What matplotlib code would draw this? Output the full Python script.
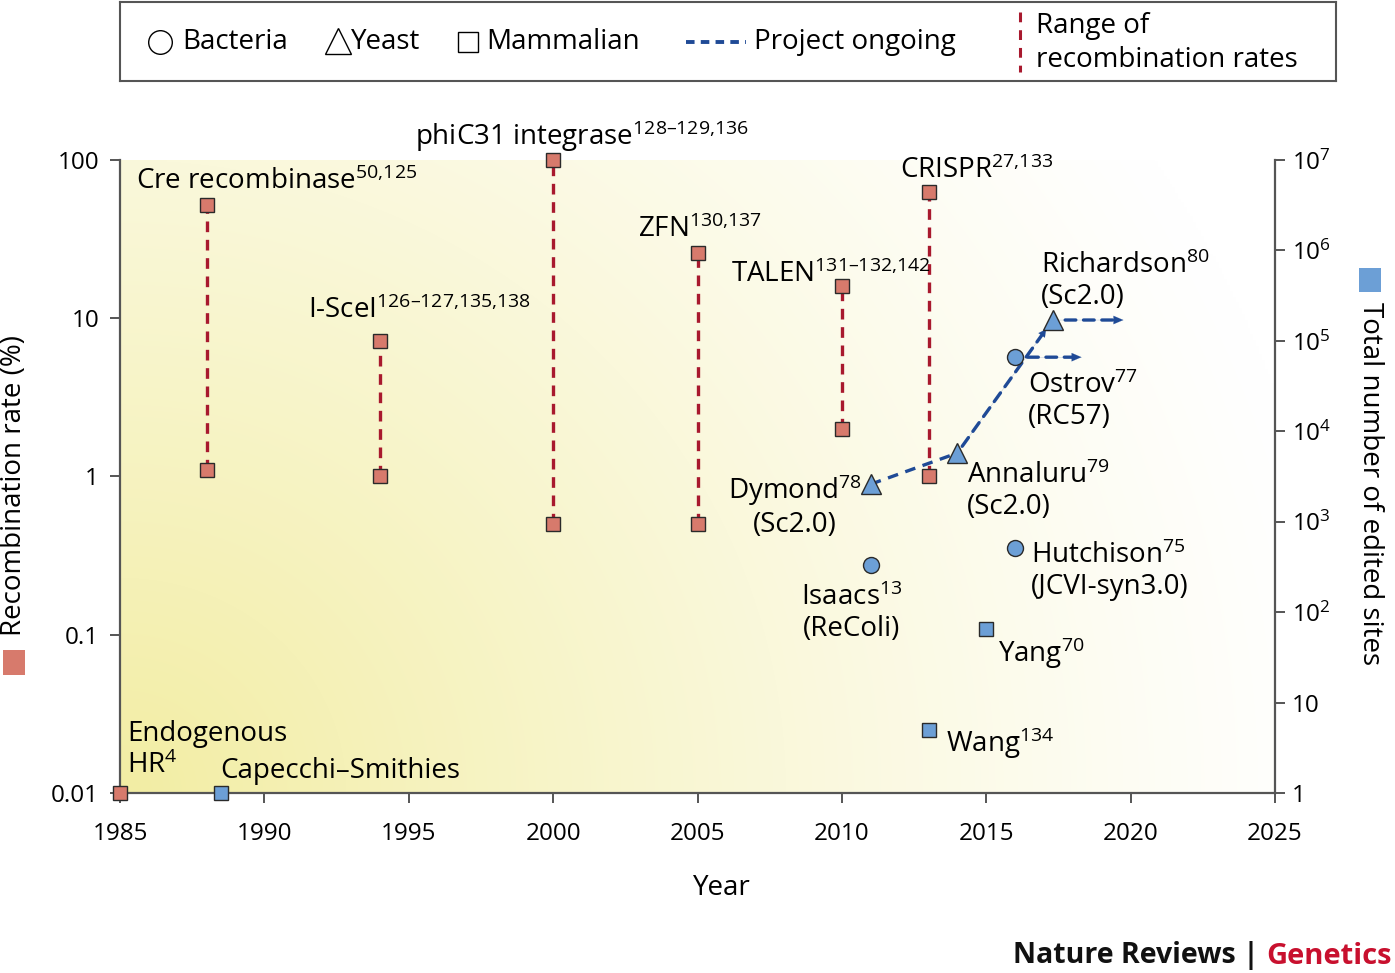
import numpy as np
import matplotlib
matplotlib.use('Agg')
import matplotlib.pyplot as plt
from matplotlib.patches import Rectangle
from matplotlib.ticker import NullLocator, FixedLocator, FixedFormatter

plt.rcParams['font.family'] = ['Open Sans', 'DejaVu Sans']
plt.rcParams['mathtext.fontset'] = 'custom'
plt.rcParams['mathtext.rm'] = 'Open Sans'
plt.rcParams['mathtext.it'] = 'Open Sans:italic'
plt.rcParams['mathtext.bf'] = 'Open Sans:bold'

# ---------------- data ----------------
tool_labels = ['Cre recombinase$^{\\mathregular{50{,}125}}$',
               'I-SceI$^{\\mathregular{126–127{,}135{,}138}}$',
               'phiC31 integrase$^{\\mathregular{128–129{,}136}}$',
               'ZFN$^{\\mathregular{130{,}137}}$',
               'TALEN$^{\\mathregular{131–132{,}142}}$',
               'CRISPR$^{\\mathregular{27{,}133}}$']
tool_years = [1988, 1994, 2000, 2005, 2010, 2013]
tool_rate_high = [52, 7.2, 100, 26, 16, 63]
tool_rate_low = [1.1, 1.0, 0.5, 0.5, 2.0, 1.0]

endogenous_label_lines = ['Endogenous', 'HR$^{\\mathregular{4}}$']
endogenous_year = [1985]
endogenous_rate = [0.01]

bacteria_labels = ['Isaacs$^{\\mathregular{13}}$\n(ReColi)',
                   'Ostrov$^{\\mathregular{77}}$\n(RC57)',
                   'Hutchison$^{\\mathregular{75}}$\n(JCVI-syn3.0)']
bacteria_years = [2011, 2016, 2016]
bacteria_sites = [330, 66000, 510]

yeast_labels = ['Dymond$^{\\mathregular{78}}$\n(Sc2.0)',
                'Annaluru$^{\\mathregular{79}}$\n(Sc2.0)',
                'Richardson$^{\\mathregular{80}}$\n(Sc2.0)']
yeast_years = [2011, 2014, 2017.3]
yeast_sites = [2600, 5750, 170000]

mammal_labels = ['Capecchi–Smithies', 'Wang$^{\\mathregular{134}}$', 'Yang$^{\\mathregular{70}}$']
mammal_years = [1988.5, 2013, 2015]
mammal_sites = [1, 5, 65]

ongoing_start_years = [2016, 2017.3]        # Ostrov, Richardson
ongoing_start_sites = [66000, 170000]
ongoing_end_years = [2018.3, 2019.75]

x_ticks = [1985, 1990, 1995, 2000, 2005, 2010, 2015, 2020, 2025]
left_ticks = [0.01, 0.1, 1, 10, 100]
left_tick_labels = ['0.01', '0.1', '1', '10', '100']
right_ticks = [1, 10, 1e2, 1e3, 1e4, 1e5, 1e6, 1e7]
right_tick_labels = ['1', '10', '$\\mathregular{10^2}$', '$\\mathregular{10^3}$',
                     '$\\mathregular{10^4}$', '$\\mathregular{10^5}$',
                     '$\\mathregular{10^6}$', '$\\mathregular{10^7}$']

# ---------------- style ----------------
RED = '#D77A6C'
BLUE = '#6C9FD6'
DARKRED = '#A8192E'
NAVY = '#1F4A96'
SPINE = '#555555'
EDGE = '#2a2a2a'
FS = 20

W, H = 1395, 973
fig = plt.figure(figsize=(W / 100, H / 100), dpi=100)

def fx(px):
    return px / W

def fy(py):
    return 1 - py / H

ax_rect = [fx(120), fy(793), fx(1275) - fx(120), fy(160) - fy(793)]

# background gradient
bg = fig.add_axes(ax_rect, zorder=-1)
gx = np.linspace(0, 1155, 400)
gy = np.linspace(0, 633, 220)
GX, GY = np.meshgrid(gx, gy)
dist = np.sqrt(GX ** 2 + (GY * 1.05) ** 2)
wgt = np.clip(1 - dist / 1230, 0, 1) ** 1.2
yellow = np.array([0.95, 0.93, 0.64])
img = (1 - wgt[..., None]) * np.array([1.0, 1.0, 1.0]) + wgt[..., None] * yellow
bg.imshow(img, origin='lower', aspect='auto', interpolation='bilinear', extent=[0, 1, 0, 1])
bg.set_axis_off()

ax = fig.add_axes(ax_rect)
ax.patch.set_alpha(0)
ax.set_yscale('log')
ax.set_xlim(1985, 2025)
ax.set_ylim(0.01, 100)

ax2 = ax.twinx()
ax2.set_yscale('log')
ax2.set_ylim(1, 1e7)

for a in (ax, ax2):
    for s in a.spines.values():
        s.set_color(SPINE)
        s.set_linewidth(1.6)
    a.spines['top'].set_visible(False)
ax2.spines['left'].set_visible(False)
ax2.spines['bottom'].set_visible(False)
ax.spines['right'].set_visible(False)

ax.xaxis.set_major_locator(FixedLocator(x_ticks))
ax.xaxis.set_major_formatter(FixedFormatter([str(t) for t in x_ticks]))
ax.yaxis.set_major_locator(FixedLocator(left_ticks))
ax.yaxis.set_major_formatter(FixedFormatter(left_tick_labels))
ax.yaxis.set_minor_locator(NullLocator())
ax2.yaxis.set_major_locator(FixedLocator(right_ticks))
ax2.yaxis.set_major_formatter(FixedFormatter(right_tick_labels))
ax2.yaxis.set_minor_locator(NullLocator())

ax.tick_params(axis='x', direction='out', length=7, width=1.4, color=SPINE,
               labelsize=17.5, pad=14)
ax.tick_params(axis='y', direction='out', length=7, width=1.4, color=SPINE,
               labelsize=17.5, pad=8)
ax2.tick_params(axis='y', direction='out', length=7, width=1.4, color=SPINE,
                labelsize=17.5, pad=5)

DASH = (0, (3.2, 2.3))

# red range lines
for x, hi, lo in zip(tool_years, tool_rate_high, tool_rate_low):
    ax.plot([x, x], [lo, hi], color=DARKRED, lw=2.4, linestyle=DASH,
            zorder=2, dash_capstyle='butt')
ax.plot(tool_years, tool_rate_high, 's', ms=10, mfc=RED, mec=EDGE, mew=1.0, zorder=4, clip_on=False)
ax.plot(tool_years, tool_rate_low, 's', ms=10, mfc=RED, mec=EDGE, mew=1.0, zorder=4, clip_on=False)
ax.plot(endogenous_year, endogenous_rate, 's', ms=10, mfc=RED, mec=EDGE, mew=1.0, zorder=5, clip_on=False)

# blue project line (Dymond -> Annaluru -> Richardson)
ax2.plot(yeast_years[:2], yeast_sites[:2], color=NAVY, lw=2.4, linestyle=DASH, zorder=3)
ax2.annotate('', xy=(yeast_years[2], yeast_sites[2]), xytext=(yeast_years[1], yeast_sites[1]),
             arrowprops=dict(arrowstyle='-', color=NAVY, lw=2.4, linestyle=DASH,
                             shrinkA=6, shrinkB=12), zorder=3)
ax2.annotate('', xy=(yeast_years[2], yeast_sites[2]), xytext=(yeast_years[1], yeast_sites[1]),
             arrowprops=dict(arrowstyle='-|>,head_length=0.55,head_width=0.28', color=NAVY, lw=0.1,
                             shrinkA=0, shrinkB=8), zorder=3)
for xs, ys, xe in zip(ongoing_start_years, ongoing_start_sites, ongoing_end_years):
    ax2.annotate('', xy=(xe, ys), xytext=(xs, ys),
                 arrowprops=dict(arrowstyle='-', color=NAVY, lw=2.4, linestyle=DASH,
                                 shrinkA=9, shrinkB=6), zorder=3)
    ax2.annotate('', xy=(xe, ys), xytext=(xs, ys),
                 arrowprops=dict(arrowstyle='-|>,head_length=0.7,head_width=0.3', color=NAVY, lw=0.1,
                                 shrinkA=0, shrinkB=0), zorder=3)

ax2.plot(bacteria_years, bacteria_sites, 'o', ms=11.5, mfc=BLUE, mec=EDGE, mew=1.0, zorder=5)
ax2.plot(yeast_years, yeast_sites, '^', ms=14, mfc=BLUE, mec=EDGE, mew=1.0, zorder=5)
ax2.plot(mammal_years, mammal_sites, 's', ms=10, mfc=BLUE, mec=EDGE, mew=1.0, zorder=5, clip_on=False)

# labels: offsets in pixels -> points
def px(v):
    return v * 0.72

LINE = 32  # pixel height of one text line (multi-line baseline = last line)

tool_offsets = [(-71, 16), (-72, 23), (-138, 15), (-60, 16), (-111, 4), (-29, 14)]
for lab, x, y, (dx, dy) in zip(tool_labels, tool_years, tool_rate_high, tool_offsets):
    ax.annotate(lab, xy=(x, y), xytext=(px(dx), px(dy)), textcoords='offset points',
                ha='left', va='baseline', fontsize=FS, zorder=6)
for i, line in enumerate(endogenous_label_lines):
    ax.annotate(line, xy=(endogenous_year[0], endogenous_rate[0]),
                xytext=(px(7), px(52 - i * LINE)),
                textcoords='offset points', ha='left', va='baseline', fontsize=FS)

bact_offsets = [(-19, -39, 'center'), (13, -35, 'left'), (16, -14, 'left')]
for lab, x, y, (dx, dy, ha) in zip(bacteria_labels, bacteria_years, bacteria_sites, bact_offsets):
    ax2.annotate(lab, xy=(x, y), xytext=(px(dx), px(dy - LINE)), textcoords='offset points',
                 ha=ha, va='baseline', fontsize=FS, multialignment='center' if ha == 'center' else 'left',
                 linespacing=1.15)
yeast_offsets = [(-76, -16, 'center'), (10, -29, 'left'), (-12, 48, 'left')]
for lab, x, y, (dx, dy, ha) in zip(yeast_labels, yeast_years, yeast_sites, yeast_offsets):
    ax2.annotate(lab, xy=(x, y), xytext=(px(dx), px(dy - LINE)), textcoords='offset points',
                 ha=ha, va='baseline', fontsize=FS, multialignment='center' if ha == 'center' else 'left',
                 linespacing=1.15)
mammal_offsets = [(-1, 15), (18, -22), (12, -33)]
for lab, x, y, (dx, dy) in zip(mammal_labels, mammal_years, mammal_sites, mammal_offsets):
    ax2.annotate(lab, xy=(x, y), xytext=(px(dx), px(dy)), textcoords='offset points',
                 ha='left', va='baseline', fontsize=FS)

# axis titles
fig.text(fx(722), fy(888), 'Year', ha='center', va='center', fontsize=FS)
fig.text(fx(14), fy(485), 'Recombination rate (%)', rotation=90, ha='center', va='center', fontsize=FS)
fig.add_artist(Rectangle((fx(3), fy(675)), fx(22), fy(650) - fy(675), transform=fig.transFigure,
                         facecolor=RED, edgecolor='none'))
fig.text(fx(1370), fy(484), 'Total number of edited sites', rotation=-90, ha='center', va='center', fontsize=FS)
fig.add_artist(Rectangle((fx(1359), fy(292)), fx(22), fy(268) - fy(292), transform=fig.transFigure,
                         facecolor=BLUE, edgecolor='none'))

# legend box
lg = fig.add_axes([fx(120), fy(81), fx(1336) - fx(120), fy(2) - fy(81)])
lg.set_xlim(0, 1216)
lg.set_ylim(79, 0)
lg.set_xticks([])
lg.set_yticks([])
for s in lg.spines.values():
    s.set_color(SPINE)
    s.set_linewidth(1.5)
LFS = 20
lg.plot([40], [40], 'o', ms=17, mfc='none', mec='black', mew=1.0)
lg.text(62, 40, 'Bacteria', va='center', ha='left', fontsize=LFS)
lg.plot([218], [39], '^', ms=19, mfc='none', mec='black', mew=1.0)
lg.text(231, 40, 'Yeast', va='center', ha='left', fontsize=LFS)
lg.plot([348], [40], 's', ms=15, mfc='none', mec='black', mew=1.0)
lg.text(366, 40, 'Mammalian', va='center', ha='left', fontsize=LFS)
lg.plot([566, 626], [40, 40], color=NAVY, lw=2.8, linestyle=(0, (2.2, 1.6)))
lg.text(634, 40, 'Project ongoing', va='center', ha='left', fontsize=LFS)
lg.plot([900, 900], [10, 70], color=DARKRED, lw=2.2, linestyle=(0, (3.2, 2.6)))
lg.text(916, 24, 'Range of', va='center', ha='left', fontsize=LFS)
lg.text(916, 58, 'recombination rates', va='center', ha='left', fontsize=LFS)

# branding
fig.text(fx(1392), fy(956), 'Genetics', ha='right', va='center', fontsize=21,
         fontweight='bold', color='#C8102E')
fig.text(fx(1259), fy(956), 'Nature Reviews |', ha='right', va='center', fontsize=20.5,
         fontweight='bold', color='#111111')

fig.savefig('out.png', dpi=100)
